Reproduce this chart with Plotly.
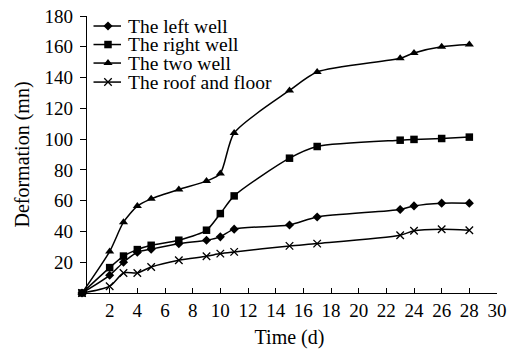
import plotly.graph_objects as go

# ---- data ----
time_d = [0, 2, 3, 4, 5, 7, 9, 10, 11, 15, 17, 23, 24, 26, 28]
left_well = [0, 11.5, 20, 26.5, 28.5, 32, 34.3, 36.5, 41.5, 44.2, 49.4, 54.3, 56.6, 58.4, 58.4]
right_well = [0, 16.5, 24, 28.2, 31, 34.3, 40.8, 51.6, 63.1, 87.6, 95.2, 99.3, 99.8, 100.4, 101.3]
two_well = [0, 27, 46, 56.5, 61.2, 67.3, 72.7, 77.7, 104, 131.6, 143.6, 152.5, 156, 160, 161.4]
roof_floor = [0, 4.4, 13, 13, 16.9, 21.3, 23.9, 25.6, 26.7, 30.6, 32.1, 37.5, 40.4, 41.4, 40.8]

series_names = ["The left well", "The right well", "The two well", "The roof and floor"]
series_values = [left_well, right_well, two_well, roof_floor]
x_ticks = list(range(2, 31, 2))
y_ticks = list(range(20, 181, 20))

# ---- styles ----
FONT = "Liberation Serif, Times New Roman, serif"
symbols = ["diamond", "square", "triangle-up", "x-thin"]
sizes = [7, 7.5, 8, 7.5]

W, H = 518, 349
L, R, T, B = 82, 21, 16, 56.3

fig = go.Figure()

for name, vals, sym, sz in zip(series_names, series_values, symbols, sizes):
    fig.add_trace(go.Scatter(
        x=time_d, y=vals, name=name, mode="lines+markers",
        line=dict(color="black", width=1.5, shape="spline", smoothing=0.7),
        marker=dict(symbol=sym, size=sz, color="black",
                    line=dict(color="black", width=1.3 if sym == "x-thin" else 0)),
        showlegend=False, cliponaxis=False,
    ))

# ---- manual legend on an overlay axis measured in pixels ----
leg_rows = [26, 44.5, 63, 82]
leg_x0, leg_x1, leg_xm, leg_text_x = 93.5, 121, 108, 126
for name, sym, sz, ry in zip(series_names, symbols, sizes, leg_rows):
    fig.add_trace(go.Scatter(
        x=[leg_x0, leg_x1], y=[ry, ry], mode="lines", xaxis="x2", yaxis="y2",
        line=dict(color="black", width=1.5), showlegend=False, hoverinfo="skip",
    ))
    fig.add_trace(go.Scatter(
        x=[leg_xm], y=[ry], mode="markers", xaxis="x2", yaxis="y2",
        marker=dict(symbol=sym, size=sz, color="black",
                    line=dict(color="black", width=1.3 if sym == "x-thin" else 0)),
        showlegend=False, hoverinfo="skip",
    ))
    fig.add_annotation(x=leg_text_x, y=ry, xref="x2", yref="y2", text=name,
                       showarrow=False, xanchor="left", yanchor="middle",
                       font=dict(family=FONT, size=19.5, color="black"))

# lone "0" label at lower-left corner
fig.add_annotation(x=68, y=311, xref="x2", yref="y2", text="0", showarrow=False,
                   xanchor="center", yanchor="middle",
                   font=dict(family=FONT, size=19, color="black"))

fig.update_layout(
    width=W, height=H,
    margin=dict(l=L, r=R, t=T, b=B, pad=0, autoexpand=False),
    paper_bgcolor="white", plot_bgcolor="white",
    font=dict(family=FONT, size=19, color="black"),
    showlegend=False,
    xaxis=dict(
        range=[0, 30], tickvals=x_ticks, ticks="inside", ticklen=5, tickwidth=1,
        tickcolor="black", showline=True, linecolor="black", linewidth=1,
        showgrid=False, zeroline=False, mirror=False, automargin=False,
        tickfont=dict(family=FONT, size=19),
        title=dict(text="Time (d)", font=dict(family=FONT, size=20), standoff=12),
    ),
    yaxis=dict(
        range=[0, 180], tickvals=y_ticks, ticks="outside", ticklen=6, tickwidth=1,
        tickcolor="black", showline=True, linecolor="black", linewidth=1,
        showgrid=False, zeroline=False, anchor="free", position=3.7 / (W - L - R),
        automargin=False,
        tickfont=dict(family=FONT, size=19), ticklabelstandoff=3,
        title=dict(text="Deformation (mn)", font=dict(family=FONT, size=20), standoff=8),
    ),
    xaxis2=dict(overlaying="x", range=[L, W - R], visible=False, anchor="y2"),
    yaxis2=dict(overlaying="y", range=[H - B, T], visible=False, anchor="x2"),
)

fig.write_html("out.html")
